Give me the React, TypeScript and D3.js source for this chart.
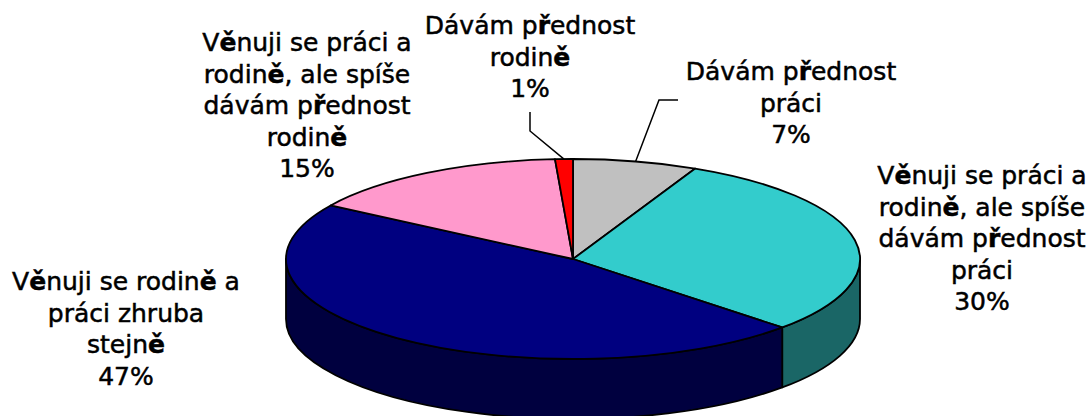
import React from "react";
import * as d3 from "d3";

const categories = [
  "Dávám přednost práci",
  "Věnuji se práci a rodině, ale spíše dávám přednost práci",
  "Věnuji se rodině a práci zhruba stejně",
  "Věnuji se práci a rodině, ale spíše dávám přednost rodině",
  "Dávám přednost rodině",
];
const values = [7, 30, 47, 15, 1];
const labelLines = [
  ["Dávám přednost", "práci"],
  ["Věnuji se práci a", "rodině, ale spíše", "dávám přednost", "práci"],
  ["Věnuji se rodině a", "práci zhruba", "stejně"],
  ["Věnuji se práci a", "rodině, ale spíše", "dávám přednost", "rodině"],
  ["Dávám přednost", "rodině"],
];
const topColors = ["#C0C0C0", "#33CCCC", "#000080", "#FF99CC", "#FF0000"];
const sideColors = ["#606060", "#1A6666", "#00003F", "#804C66", "#800000"];

// layout (not data)
const W = 1088, H = 416;
const CX = 573, CY = 259, RX = 287, RY = 100, DEPTH = 60;
const labelPos = [
  { x: 791, y: 80 },
  { x: 982, y: 184 },
  { x: 126, y: 290 },
  { x: 307, y: 51 },
  { x: 530, y: 34 },
];
const LINE_H = 31.5;
const leaderElbows: Record<number, [number, number][]> = {
  0: [[678, 100], [659, 100]],
  4: [[530, 112], [530, 131]],
};

const P = (a: number, dy = 0): [number, number] => [CX + RX * Math.sin(a), CY - RY * Math.cos(a) + dy];

function renderLine(s: string) {
  const parts: { t: string; b: boolean }[] = [];
  for (const ch of s) {
    const b = ch === "ě" || ch === "ř";
    if (parts.length && parts[parts.length - 1].b === b) parts[parts.length - 1].t += ch;
    else parts.push({ t: ch, b });
  }
  return parts.map((p, i) => (
    <tspan key={i} fontWeight={p.b ? "bold" : "normal"}>{p.t}</tspan>
  ));
}

export default function App() {
  const arcs = d3.pie<number>().sort(null).startAngle(0).endAngle(2 * Math.PI)(values);

  const sides = arcs.map((a, i) => {
    const s = Math.max(a.startAngle, Math.PI / 2);
    const e = Math.min(a.endAngle, (3 * Math.PI) / 2);
    if (s >= e) return null;
    const [x0, y0] = P(s);
    const [x1, y1] = P(e);
    const d = `M${x0},${y0} A${RX},${RY} 0 0 1 ${x1},${y1} L${x1},${y1 + DEPTH} A${RX},${RY} 0 0 0 ${x0},${y0 + DEPTH} Z`;
    return <path key={"s" + i} d={d} fill={sideColors[i]} stroke="#000" strokeWidth={1.8} strokeLinejoin="round" />;
  });

  const tops = arcs.map((a, i) => {
    const [x0, y0] = P(a.startAngle);
    const [x1, y1] = P(a.endAngle);
    const large = a.endAngle - a.startAngle > Math.PI ? 1 : 0;
    const d = `M${CX},${CY} L${x0},${y0} A${RX},${RY} 0 ${large} 1 ${x1},${y1} Z`;
    return <path key={"t" + i} d={d} fill={topColors[i]} stroke="#000" strokeWidth={1.8} strokeLinejoin="round" />;
  });

  const leaders = Object.entries(leaderElbows).map(([k, pts]) => {
    const i = Number(k);
    const mid = (arcs[i].startAngle + arcs[i].endAngle) / 2;
    const end = P(mid);
    const line = d3.line()([...pts, end]);
    return <path key={"l" + i} d={line || ""} fill="none" stroke="#000" strokeWidth={1.5} />;
  });

  const labels = labelLines.map((lines, i) => {
    const all = [...lines, `${values[i]}%`];
    return (
      <text key={"lb" + i} x={labelPos[i].x} y={labelPos[i].y} textAnchor="middle"
        fontFamily="'DejaVu Sans', Verdana, sans-serif" fontSize={25} fill="#000"
        stroke="#000" strokeWidth={0.5}>
        {all.map((ln, j) => (
          <tspan key={j} x={labelPos[i].x} y={labelPos[i].y + j * LINE_H}>{renderLine(ln)}</tspan>
        ))}
      </text>
    );
  });

  return (
    <svg width={W} height={H} style={{ position: "absolute", left: 0, top: 0, background: "#fff" }}
      aria-label={categories.join("; ")}>
      <rect width={W} height={H} fill="#fff" />
      {sides}
      {tops}
      {leaders}
      {labels}
    </svg>
  );
}
